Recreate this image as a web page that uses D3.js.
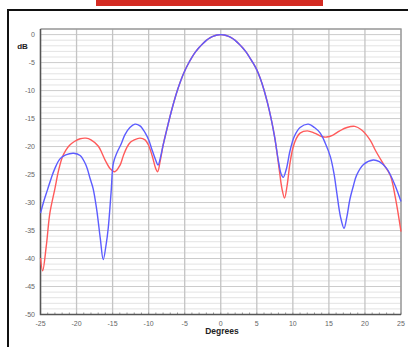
<!DOCTYPE html>
<html><head><meta charset="utf-8">
<script src="https://cdn.jsdelivr.net/npm/d3@7"></script>
<style>html,body{margin:0;padding:0;background:#fff;}svg{display:block;}</style>
</head><body>
<script>
// ---- data ----
const xTicks = [-25,-20,-15,-10,-5,0,5,10,15,20,25];
const yTicks = [0,-5,-10,-15,-20,-25,-30,-35,-40,-45,-50];
// main lobe (shared by both series)
const lobeAngles = [-7.5,-7,-6.5,-6,-5.5,-5,-4.5,-4,-3.5,-3,-2.5,-2,-1.5,-1,-0.5,0,0.5,1,1.5,2,2.5,3,3.5,4,4.5,5,5.5,6,6.5,7,7.5];
const lobeValues = [-17.05,-14.45,-12.05,-9.9,-8.05,-6.5,-5.2,-4.07,-3.1,-2.3,-1.62,-1.04,-0.59,-0.27,-0.07,0,-0.07,-0.27,-0.59,-1.04,-1.62,-2.3,-3.1,-4.07,-5.1,-6.3,-7.9,-9.9,-12.3,-15.1,-18.5];
// red series side lobes
const redLeftAngles = [-25,-24.7,-24.2,-23.7,-23,-22.5,-22,-21.5,-21,-20.3,-19.5,-18.7,-18,-17,-16.5,-16,-15.3,-14.7,-14,-13.5,-13,-12.5,-12,-11.2,-10.5,-10,-9.5,-9,-8.75,-8.4,-8];
const redLeftValues = [-39.9,-42.2,-37.8,-31.9,-27.5,-24.3,-22.0,-20.7,-19.8,-19.1,-18.6,-18.5,-18.8,-19.9,-21.1,-22.5,-24.0,-24.5,-23.4,-21.6,-20.1,-19.2,-18.8,-18.5,-18.8,-19.8,-21.7,-24.0,-24.5,-22.6,-19.8];
const redRightAngles = [8,8.5,8.85,9.2,9.6,10,10.5,11,12,13,14,14.7,15.5,16.5,17.5,18.6,19.5,20.7,21.5,22.5,23.5,24.2,25];
const redRightValues = [-23.0,-27.6,-29.2,-27.0,-23.0,-20.3,-18.5,-17.6,-17.2,-17.6,-18.2,-18.3,-18.0,-17.2,-16.6,-16.4,-17.0,-18.8,-20.8,-23.0,-25.1,-29.0,-35.2];
// blue series side lobes
const blueLeftAngles = [-25,-24.5,-24,-23.5,-23,-22.3,-21.5,-20.4,-19.5,-18.7,-18.1,-17.7,-17.2,-16.7,-16.3,-15.9,-15.6,-15.2,-14.9,-14.4,-13.8,-13.3,-12.6,-11.9,-11.2,-10.5,-10,-9.5,-9,-8.7,-8.3,-8];
const blueLeftValues = [-31.9,-29.6,-27.6,-25.6,-23.9,-22.2,-21.5,-21.2,-21.6,-23.3,-25.8,-27.5,-31.3,-36.5,-40.2,-37.5,-34.5,-28.0,-23.0,-21.1,-19.5,-17.9,-16.6,-16.0,-16.3,-17.5,-18.8,-20.7,-22.5,-23.3,-21.6,-19.8];
const blueRightAngles = [8,8.35,8.67,9.1,9.6,10.2,11,12.15,13,13.8,14.5,15.2,15.7,16.1,16.6,17.1,17.5,17.9,18.4,18.85,19.8,21.15,22,23,23.5,24.2,25];
const blueRightValues = [-22.6,-24.8,-25.5,-24.0,-20.8,-18.2,-16.6,-16.0,-16.6,-17.6,-19.4,-21.8,-24.8,-28.3,-32.5,-34.6,-32.5,-29.5,-27.0,-25.1,-23.2,-22.4,-22.7,-23.9,-25.0,-27.0,-29.8];

// ---- drawing ----
const W = 408, H = 347;
const svg = d3.select("body").append("svg").attr("width", W).attr("height", H);
const L = 40.5, R = 401, T = 29, B = 314.5;
const x = d3.scaleLinear().domain([-25,25]).range([L,R]);
const y = d3.scaleLinear().domain([-50,1]).range([B,T]);

svg.append("rect").attr("x",96).attr("y",0).attr("width",227).attr("height",6).attr("fill","#d42b22");
svg.append("path").attr("d",`M8,${H+2}V10H${W+2}`).attr("fill","none").attr("stroke","#111").attr("stroke-width",2);

const g = svg.append("g");
g.selectAll("line.h").data(d3.range(-50,2)).enter().append("line")
  .attr("x1",L).attr("x2",R).attr("y1",d=>y(d)).attr("y2",d=>y(d))
  .attr("stroke",d=>d%5===0?"#cccccc":"#e3e3e3").attr("stroke-width",1);
g.selectAll("line.v").data(xTicks).enter().append("line")
  .attr("x1",d=>x(d)).attr("x2",d=>x(d)).attr("y1",T).attr("y2",B)
  .attr("stroke","#c4c4c4").attr("stroke-width",1.3);
g.selectAll("line.m").data(d3.range(-25,26)).enter().append("line")
  .attr("x1",d=>x(d)).attr("x2",d=>x(d)).attr("y1",B-2).attr("y2",B)
  .attr("stroke","#999").attr("stroke-width",1);

svg.append("path").attr("d",`M${L},${T}H${R}V${B}`).attr("fill","none").attr("stroke","#999").attr("stroke-width",1.3);
svg.append("path").attr("d",`M${L},${T}V${B}H${R}`).attr("fill","none").attr("stroke","#555").attr("stroke-width",1.5);

const line = d3.line().x(d=>x(d[0])).y(d=>y(d[1])).curve(d3.curveCatmullRom.alpha(0.5));
const zip = (a,v)=>a.map((t,i)=>[t,v[i]]);
const redData = [...zip(redLeftAngles,redLeftValues), ...zip(lobeAngles,lobeValues), ...zip(redRightAngles,redRightValues)];
const blueData = [...zip(blueLeftAngles,blueLeftValues), ...zip(lobeAngles,lobeValues), ...zip(blueRightAngles,blueRightValues)];
svg.append("path").datum(redData).attr("d",line).attr("fill","none").attr("stroke","#ff5a5a").attr("stroke-width",1.4);
svg.append("path").datum(blueData).attr("d",line).attr("fill","none").attr("stroke","#5c5cff").attr("stroke-width",1.4);

svg.selectAll("text.yt").data(yTicks).enter().append("text")
  .attr("x",35).attr("y",d=>y(d)).attr("dy","0.35em").attr("text-anchor","end")
  .attr("font-family","Liberation Sans, Arial, sans-serif").attr("font-size",7).attr("fill","#666").text(d=>d);
svg.selectAll("text.xt").data(xTicks).enter().append("text")
  .attr("x",d=>x(d)).attr("y",324).attr("dy","0.35em").attr("text-anchor","middle")
  .attr("font-family","Liberation Sans, Arial, sans-serif").attr("font-size",7).attr("fill","#666").text(d=>d);
svg.append("text").attr("x",22.5).attr("y",46).attr("dy","0.35em").attr("text-anchor","middle")
  .attr("font-family","Liberation Sans, Arial, sans-serif").attr("font-size",8).attr("font-weight","bold").attr("fill","#222").text("dB");
svg.append("text").attr("x",222).attr("y",331).attr("dy","0.35em").attr("text-anchor","middle")
  .attr("font-family","Liberation Sans, Arial, sans-serif").attr("font-size",8.5).attr("font-weight","bold").attr("fill","#222").text("Degrees");
</script>
</body></html>
